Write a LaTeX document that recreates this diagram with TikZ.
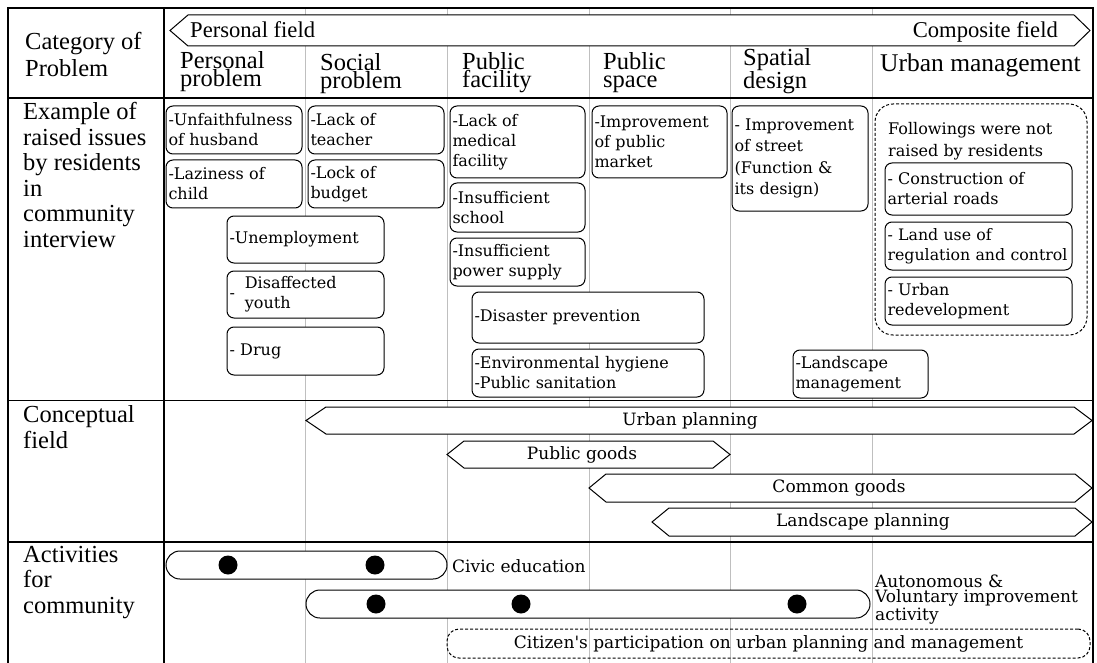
\documentclass[tikz,border=0pt]{standalone}
\usepackage{fontspec}
\setmainfont{Liberation Serif}
\newfontfamily\boxfont{DejaVu Serif}
\usetikzlibrary{positioning}
\hyphenpenalty=10000
\exhyphenpenalty=10000

\begin{document}
\begin{tikzpicture}[x=1pt, y=-1pt,
    frameline/.style={line width=1.8pt},
    colline/.style={draw=gray!50, line width=0.8pt},
    rowhead/.style={anchor=base west, align=left, inner sep=0pt, font=\fontsize{24.5}{25.4}\selectfont},
    colhead/.style={anchor=base west, align=left, inner sep=0pt, font=\fontsize{24.5}{18}\selectfont},
    fieldhead/.style={inner sep=0pt, font=\fontsize{22.6}{24}\selectfont},
    issue/.style={draw, line width=1pt, rounded corners=7pt, fill=white, align=left,
      inner xsep=2.5pt, inner ysep=0pt, font=\boxfont\fontsize{16}{20}\selectfont},
    fieldarrow/.style={draw, line width=1pt, fill=white},
    fieldlabel/.style={inner sep=0pt, font=\boxfont\fontsize{17}{18}\selectfont},
    capsule/.style={draw, line width=1pt, fill=white, rounded corners=14pt,
      minimum height=28pt, inner sep=0pt},
    bigdot/.style={circle, fill=black, inner sep=0pt, minimum size=19pt},
    dashbox/.style={draw, line width=1pt, dash pattern=on 3pt off 2pt},
  ]
  \useasboundingbox (0,0) rectangle (1097,663);

  % thin column lines
  \foreach \x in {305.5,447,589,730.5,872}
    \draw[colline] (\x,8) -- (\x,663);

  % frame and row lines
  \draw[frameline] (8,663) -- (8,8) -- (1093,8) -- (1093,663);
  \draw[frameline] (164,8) -- (164,663);
  \foreach \y in {98,400.5,542}
    \draw[frameline] (8,\y) -- (1093,\y);

  % header row
  \node[rowhead, font=\fontsize{24.5}{27}\selectfont] (cat) at (25,77) {Category of\\Problem};
  \draw[fieldarrow] (170,30.5) -- (188,15) -- (1074,15) -- (1090,30.5) -- (1074,46) -- (188,46) -- cycle;
  \node[fieldhead, anchor=base west] (personal) at (190,38) {Personal field};
  \node[fieldhead, anchor=base east] (composite) at (1058,38) {Composite field};
  \node[colhead] (hpers) at (180,87) {Personal\\problem};
  \node[colhead] (hsoc) at (320,89) {Social\\problem};
  \node[colhead] (hfac) at (462,88) {Public\\facility};
  \node[colhead] (hspc) at (603,88) {Public\\space};
  \node[colhead] (hdes) at (743,89) {Spatial\\design};
  \node[colhead, font=\fontsize{25.5}{18}\selectfont] (hman) at (880,72) {Urban management};

  % raised issues
  \node[rowhead] (issues) at (23,247) {Example of\\raised issues\\by residents\\in\\community\\interview};
  \node[issue, text width=131pt, minimum height=48pt] (unfaith) at (234,130) {-Unfaithfulness\\of husband};
  \node[issue, text width=131pt, minimum height=48pt] (teacher) at (376,130) {-Lack of\\teacher};
  \node[issue, text width=131pt, minimum height=48pt] (lazy) at (234,184) {-Laziness of\\child};
  \node[issue, text width=131pt, minimum height=48pt] (budget) at (376,184) {-Lock of\\budget};
  \node[issue, text width=152pt, minimum height=47pt] (unemp) at (305.5,239.5) {-Unemployment};
  \node[issue, text width=152pt, minimum height=47pt] (youth) at (305.5,294.5)
    {-\hspace{10pt}\begin{tabular}[c]{@{}l@{}}Disaffected\\youth\end{tabular}};
  \node[issue, text width=152pt, minimum height=48pt] (drug) at (305.5,351) {- Drug};
  \node[issue, text width=130pt, minimum height=72pt] (medical) at (517.5,142) {-Lack of\\medical\\facility};
  \node[issue, text width=130pt, minimum height=49pt] (school) at (517.5,207.5) {-Insufficient\\school};
  \node[issue, text width=130pt, minimum height=48pt] (power) at (517.5,262) {-Insufficient\\power supply};
  \node[issue, text width=227pt, minimum height=51pt] (disaster) at (588,317.5) {-Disaster prevention};
  \node[issue, text width=227pt, minimum height=48pt] (hygiene) at (588,373) {-Environmental hygiene\\-Public sanitation};
  \node[issue, text width=130pt, minimum height=72pt] (market) at (659.5,142) {-Improvement\\of public\\market};
  \node[issue, text width=131pt, minimum height=105pt, font=\boxfont\fontsize{16}{21.5}\selectfont] (street) at (800,158.5)
    {- Improvement\\of street\\(Function \&\\its design)};
  \node[dashbox, rounded corners=18pt, minimum width=212pt, minimum height=231pt] (notraised) at (981,219.5) {};
  \node[anchor=base west, align=left, inner sep=0pt, font=\boxfont\fontsize{16}{22}\selectfont] (nrtitle) at (888,157)
    {Followings were not\\raised by residents};
  \node[issue, text width=182pt, minimum height=52pt] (arterial) at (978.5,189) {- Construction of\\arterial roads};
  \node[issue, text width=182pt, minimum height=48pt, font=\boxfont\fontsize{15.8}{20}\selectfont] (landuse) at (978.5,246)
    {- Land use of\\\mbox{regulation and control}};
  \node[issue, text width=182pt, minimum height=48pt] (redevel) at (978.5,301) {- Urban\\redevelopment};
  \node[issue, text width=130pt, minimum height=48pt] (landman) at (860.5,374) {-Landscape\\management};

  % conceptual field
  \node[rowhead] (concept) at (23,448) {Conceptual\\field};
  \draw[fieldarrow] (306,420.5) -- (326,407) -- (1074,407) -- (1092,420.5) -- (1074,434) -- (326,434) -- cycle;
  \node[fieldlabel] (urbplan) at (690,420.5) {Urban planning};
  \draw[fieldarrow] (447,454.5) -- (464,441) -- (713,441) -- (730,454.5) -- (713,468) -- (464,468) -- cycle;
  \node[fieldlabel] (pubgoods) at (582,454.5) {Public goods};
  \draw[fieldarrow] (589,488) -- (606,474) -- (1075,474) -- (1092,488) -- (1075,502) -- (606,502) -- cycle;
  \node[fieldlabel] (comgoods) at (839,488) {Common goods};
  \draw[fieldarrow] (652,522) -- (669,508) -- (1075,508) -- (1092,522) -- (1075,536) -- (669,536) -- cycle;
  \node[fieldlabel] (landplan) at (863,522) {Landscape planning};

  % activities for community
  \node[rowhead] (activ) at (23,613) {Activities\\for\\community};
  \node[capsule, minimum width=281pt] (civic) at (306.5,565) {};
  \node[bigdot] (c1) at (228,565) {};
  \node[bigdot] (c2) at (375,565) {};
  \node[fieldlabel, anchor=west] (civtext) at (452,566) {Civic education};
  \node[capsule, minimum width=564pt] (auto) at (588,604) {};
  \node[bigdot] (a1) at (376,604) {};
  \node[bigdot] (a2) at (521,604) {};
  \node[bigdot] (a3) at (797,604) {};
  \node[anchor=base west, align=left, inner sep=0pt, font=\boxfont\fontsize{17}{15.5}\selectfont] (autotext) at (875,620)
    {Autonomous \&\\Voluntary improvement\\activity};
  \node[dashbox, rounded corners=12pt, minimum width=643pt, minimum height=29pt, font=\boxfont\fontsize{17}{18}\selectfont] (citizen) at (768.5,643.5)
    {Citizen's participation on urban planning and management};
\end{tikzpicture}
\end{document}
